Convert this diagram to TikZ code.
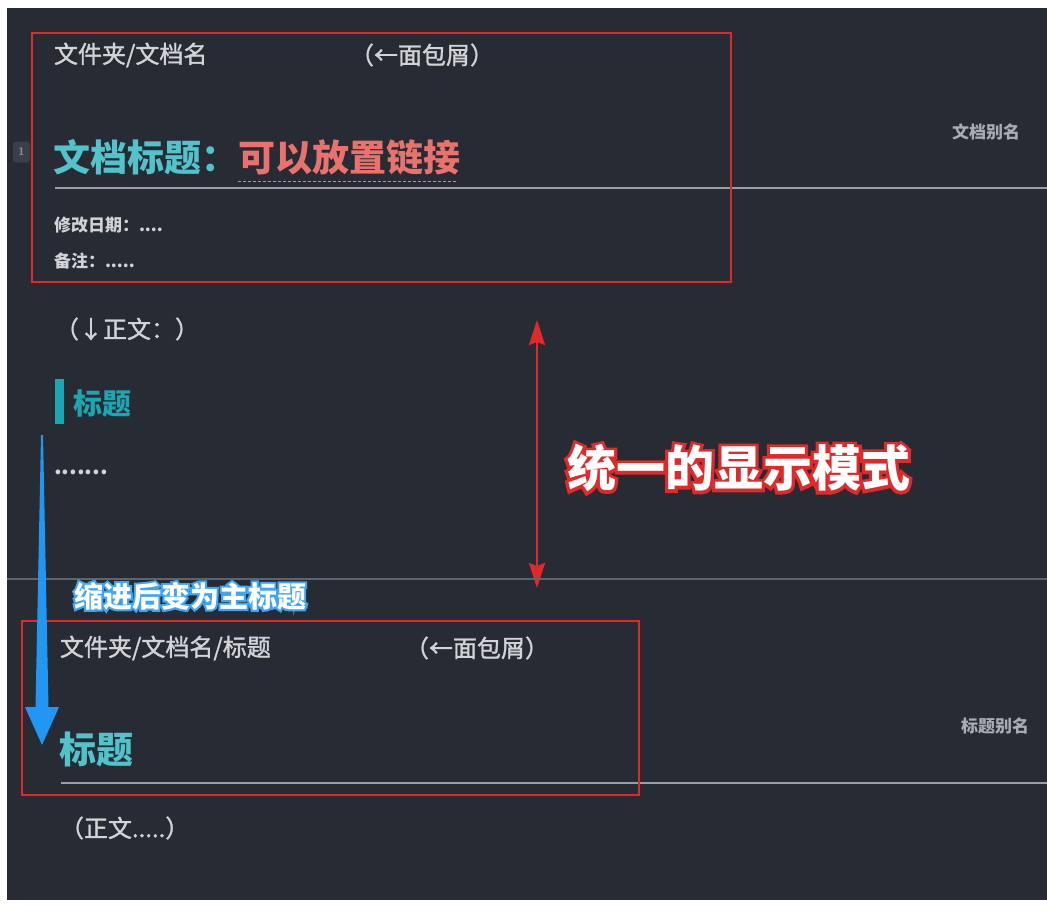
\documentclass[tikz,border=0pt]{standalone}
\usepackage{fontspec}
\newfontfamily\cjk{Noto Sans CJK SC}
\newfontfamily\cjkmed[FakeBold=1.4]{Noto Sans CJK SC}
\newfontfamily\cjkredglow[FakeBold=13, BoldFeatures={FakeBold=13}]{Noto Sans CJK SC}
\newfontfamily\cjkblueglow[FakeBold=14, BoldFeatures={FakeBold=14}]{Noto Sans CJK SC}
\usetikzlibrary{arrows.meta,calc}
\definecolor{bgdark}{HTML}{272B33}
\definecolor{crumbgrey}{HTML}{D2D3D5}
\definecolor{aliasgrey}{HTML}{A9ACB1}
\definecolor{rulegrey}{HTML}{9B9EA4}
\definecolor{seprule}{HTML}{60646B}
\definecolor{boxred}{HTML}{E1292A}
\definecolor{titlecyan}{HTML}{52C3CB}
\definecolor{hcyan}{HTML}{1CA5B2}
\definecolor{linkpink}{HTML}{E9726D}
\definecolor{arrowblue}{HTML}{2196F3}
\definecolor{glowblue}{HTML}{3DA5F5}
\definecolor{badgebg}{HTML}{3B3F47}
\definecolor{badgefg}{HTML}{8C9096}
\tikzset{
  every node/.style={inner sep=0pt, outer sep=0pt, anchor=west},
  crumb/.style={font=\cjkmed\fontsize{24}{24}\selectfont, text=crumbgrey},
  metatext/.style={font=\cjk\bfseries\fontsize{17}{17}\selectfont, text=crumbgrey},
  aliastext/.style={font=\cjk\bfseries\fontsize{17}{17}\selectfont, text=aliasgrey, anchor=east},
  bigtitle/.style={font=\cjk\bfseries\fontsize{37}{37}\selectfont, text=titlecyan},
  linktext/.style={font=\cjk\bfseries\fontsize{37}{37}\selectfont, text=linkpink},
  subhead/.style={font=\cjk\bfseries\fontsize{29}{29}\selectfont, text=hcyan},
  dotstext/.style={font=\cjk\bfseries\fontsize{22}{22}\selectfont, text=crumbgrey},
  redbox/.style={draw=boxred, line width=2.6pt},
  hrule/.style={draw=rulegrey, line width=1.4pt},
  seprulestyle/.style={draw=seprule, line width=1.6pt},
  dashline/.style={draw=rulegrey, line width=1.2pt, dash pattern=on 3pt off 2pt},
  redarrow/.style={draw=boxred, line width=2.8pt, {Stealth[length=25pt,width=16pt,inset=3pt]}-{Stealth[length=25pt,width=16pt,inset=3pt]}},
  bigwhite/.style={font=\cjk\bfseries\fontsize{49}{49}\selectfont, text=white},
  bigglow/.style={font=\cjkredglow\bfseries\fontsize{49}{49}\selectfont, text=boxred},
  bluewhite/.style={font=\cjk\bfseries\fontsize{29}{29}\selectfont, text=white},
  blueglow/.style={font=\cjkblueglow\bfseries\fontsize{29}{29}\selectfont, text=glowblue},
  badge/.style={fill=badgebg, rounded corners=3pt, minimum width=17pt, minimum height=21pt, anchor=center, font=\sffamily\bfseries\fontsize{11}{11}\selectfont, text=badgefg}
}
\begin{document}
\begin{tikzpicture}[x=1pt,y=-1pt]
\useasboundingbox (0,0) rectangle (1047,911);
\fill[white] (0,0) rectangle (1047,911);
\fill[bgdark] (7,8) rectangle (1047,900);

% ---------- top header block ----------
\node[badge] (badge) at (21.5,152) {1};
\node[crumb] (crumb1) at (54,55) {文件夹/文档名};
\node[crumb] (hint1) at (350,55) {（←面包屑）};
\node[bigtitle] (doctitle) at (53,157) {文档标题：};
\node[linktext] (link) at (doctitle.east) {可以放置链接};
\coordinate (dashs) at (238,181.5);
\coordinate (dashe) at (457,181.5);
\draw[dashline] (dashs) -- (dashe);
\coordinate (rule1s) at (55,188);
\coordinate (rule1e) at (1047,188);
\draw[hrule] (rule1s) -- (rule1e);
\node[aliastext] (alias1) at (1020,132) {文档别名};
\node[metatext] (date) at (54,225) {修改日期：....};
\node[metatext] (note) at (54,261) {备注：.....};
\draw[redbox] (32,33) rectangle (731,282);

% ---------- body ----------
\node[crumb] (body1) at (55,329) {（↓正文：）};
\fill[hcyan] (55,379) rectangle (64,424);
\node[subhead] (h2) at (73,403) {标题};
\node[dotstext] (dots) at (54,472) {.......};

% ---------- double arrow and label ----------
\coordinate (arrtop) at (537,320);
\coordinate (arrbot) at (537,588);
\draw[redarrow] (arrtop) -- (arrbot);
\node[bigglow] (unifyglow) at (567,468) {统一的显示模式};
\node[bigwhite] (unify) at (567,468) {统一的显示模式};

% ---------- separator ----------
\coordinate (seps) at (7,579);
\coordinate (sepe) at (1047,579);
\draw[seprulestyle] (seps) -- (sepe);

% ---------- blue label ----------
\node[blueglow] (indentglow) at (74,596) {缩进后变为主标题};
\node[bluewhite] (indent) at (74,596) {缩进后变为主标题};

% ---------- bottom header block ----------
\node[crumb] (crumb2) at (60,648) {文件夹/文档名/标题};
\node[crumb] (hint2) at (405,648) {（←面包屑）};
\node[bigtitle] (title2) at (59,749) {标题};
\coordinate (rule2s) at (61,783);
\coordinate (rule2e) at (1047,783);
\draw[hrule] (rule2s) -- (rule2e);
\node[aliastext] (alias2) at (1029,726) {标题别名};
\draw[redbox] (22,621) rectangle (639,795);
\node[crumb] (body2) at (60,828) {（正文.....）};

% ---------- blue tapered arrow ----------
\fill[arrowblue] (41,435) -- (43,435) -- (48.5,707) -- (59,707) -- (42,745) -- (25,707) -- (35.5,707) -- cycle;
\end{tikzpicture}
\end{document}
